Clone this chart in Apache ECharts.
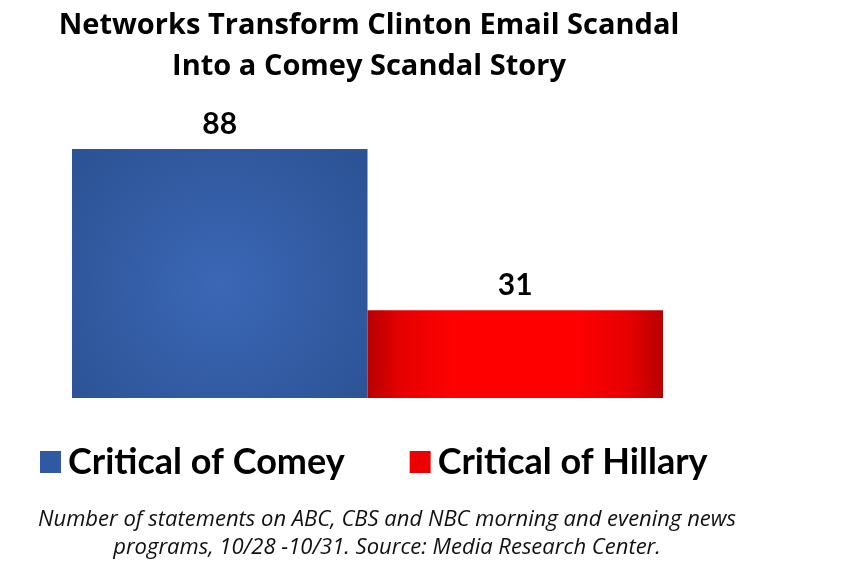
<!DOCTYPE html>
<html><head><meta charset="utf-8">
<script src="https://cdn.jsdelivr.net/npm/echarts@6/dist/echarts.min.js"></script>
<style>html,body{margin:0;padding:0;background:#fff}#c{width:847px;height:583px}</style>
</head><body><div id="c"></div>
<script>
var categories = ['Critical of Comey', 'Critical of Hillary'];
var comeyValues = [88, '-'];
var hillaryValues = ['-', 31];
var titleLines = ['Networks Transform Clinton Email Scandal', 'Into a Comey Scandal Story'];
var footLines = ['Number of statements on ABC, CBS and NBC morning and evening news', 'programs, 10/28 -10/31. Source: Media Research Center.'];

var FONT = 'Lato, "Open Sans", sans-serif';
var WIDE = '"Open Sans", Lato, sans-serif';
var blueGrad = new echarts.graphic.RadialGradient(0.5, 0.55, 0.75, [
  {offset: 0, color: '#3b67b6'}, {offset: 1, color: '#2c5395'}]);
var redGrad = new echarts.graphic.LinearGradient(0, 0, 1, 0, [
  {offset: 0, color: '#b80000'}, {offset: 0.12, color: '#e80000'}, {offset: 0.3, color: '#ff0000'},
  {offset: 0.7, color: '#ff0000'}, {offset: 0.88, color: '#e80000'}, {offset: 1, color: '#b80000'}]);

var chart = echarts.init(document.getElementById('c'));
chart.setOption({
  animation: false,
  title: [{
    text: titleLines.join('\n'), left: 364, top: 0, textAlign: 'center',
    textStyle: {fontFamily: WIDE, fontWeight: 'bold', fontSize: 29, lineHeight: 41, color: '#000'}
  }, {
    text: footLines.join('\n'), left: 382, top: 501, textAlign: 'center',
    textStyle: {fontFamily: WIDE, fontStyle: 'italic', fontWeight: 'normal', fontSize: 22, lineHeight: 28, color: '#111'}
  }],
  grid: {left: 72, right: 184, top: 115, bottom: 185},
  legend: {
    left: 35, top: 439, itemWidth: 21, itemHeight: 22, itemGap: 65,
    icon: 'rect',
    data: [{name: categories[0], itemStyle: {color: '#2f59a3'}}, {name: categories[1], itemStyle: {color: '#ee0000'}}],
    textStyle: {fontFamily: FONT, fontWeight: 'bold', fontSize: 36, color: '#000', padding: [0, 0, 0, 2]}
  },
  xAxis: {type: 'category', data: categories, show: false},
  yAxis: {type: 'value', min: 0, max: 100, show: false},
  series: [{
    name: categories[0], type: 'bar', stack: 's', data: comeyValues, barWidth: '100%',
    itemStyle: {color: blueGrad},
    label: {show: true, position: 'top', distance: 10, fontFamily: FONT, fontWeight: 'bold', fontSize: 30, color: '#000'}
  }, {
    name: categories[1], type: 'bar', stack: 's', data: hillaryValues, barWidth: '100%',
    itemStyle: {color: redGrad},
    label: {show: true, position: 'top', distance: 10, fontFamily: FONT, fontWeight: 'bold', fontSize: 30, color: '#000'}
  }]
});
</script></body></html>
